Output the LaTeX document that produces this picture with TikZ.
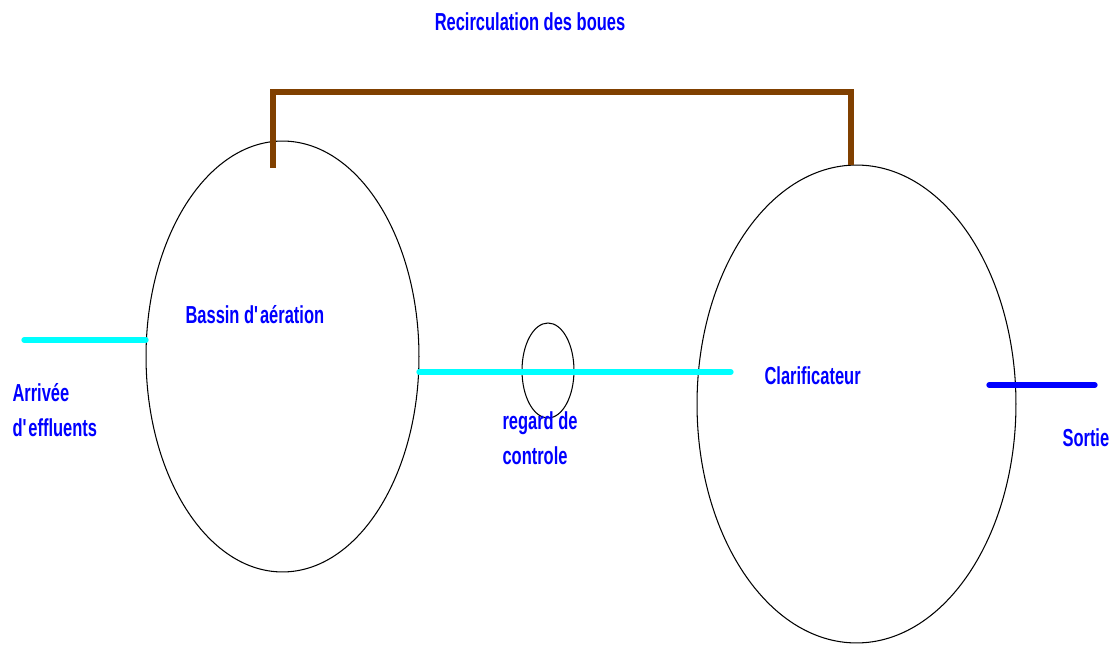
\documentclass[tikz,border=0pt]{standalone}
\usepackage{fontspec}
\setmainfont[FakeStretch=0.67]{Liberation Sans}
\usetikzlibrary{shapes.geometric}
\definecolor{eau}{RGB}{0,255,255}
\definecolor{texte}{RGB}{0,0,255}
\definecolor{boue}{RGB}{128,64,0}
\begin{document}
\begin{tikzpicture}[x=0.02cm, y=-0.02cm, line width=0.6pt,
  bassin/.style={draw, ellipse, inner sep=0pt, outer sep=0pt},
  tuyau/.style={eau, line width=3pt, line cap=round},
  etiquette/.style={texte, font=\fontsize{14}{20}\selectfont\bfseries, inner sep=0pt, anchor=west, align=left}]
  \useasboundingbox (0,0) rectangle (1117,645);
  % bassins
  \node[bassin, minimum width=5.46cm, minimum height=8.62cm] (aer) at (282.5,356.5) {};
  \node[bassin, minimum width=6.38cm, minimum height=9.56cm] (clar) at (856.5,404) {};
  \node[bassin, minimum width=1.04cm, minimum height=1.9cm] (regard) at (548,370.5) {};
  % arrivee et liaison
  \coordinate (entree) at (24,340);
  \coordinate (fin) at (731,372);
  \draw[tuyau] (entree) -- (aer.west |- entree);
  \draw[tuyau] (aer.east |- fin) -- (fin);
  % sortie
  \coordinate (s1) at (989,385); \coordinate (s2) at (1095,385);
  \draw[tuyau, texte] (s1) -- (s2);
  % recirculation des boues
  \coordinate (r1) at (273,168); \coordinate (r2) at (851,165.5);
  \draw[boue, line width=3pt] (r1) -- (273,92) -- (851,92) -- (r2);
  % textes
  \node[etiquette, anchor=center] (titre) at (530,22) {Recirculation des boues};
  \node[etiquette] (laer) at (185,315) {Bassin d\textquotesingle a\'eration};
  \node[etiquette] (larr) at (12,410) {Arriv\'ee\\d\textquotesingle effluents};
  \node[etiquette] (lreg) at (502,438) {regard de\\controle};
  \node[etiquette] (lclar) at (764,376) {Clarificateur};
  \node[etiquette] (lsort) at (1062,438) {Sortie};
\end{tikzpicture}
\end{document}
